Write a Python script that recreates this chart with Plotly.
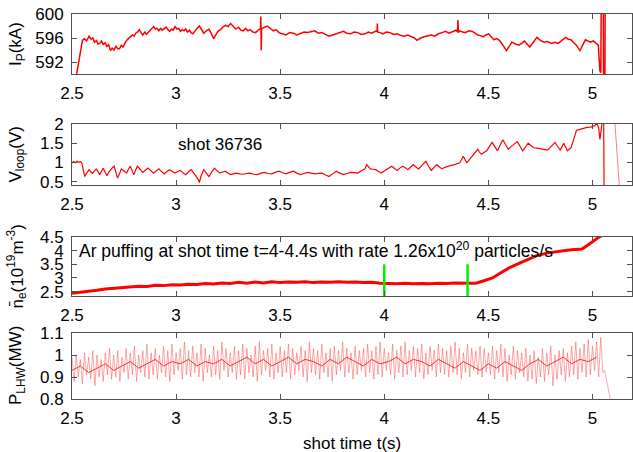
import plotly.graph_objects as go

# ---------------- data ----------------
ip_pts = [(2.520,589.5),(2.540,593.5),(2.550,595.6),(2.560,595.9),(2.570,595.5),(2.582,596.3),(2.592,595.8),(2.600,596.0),
(2.608,595.3),(2.618,595.6),(2.625,595.0),(2.633,595.1),(2.642,595.5),(2.650,594.9),(2.659,595.2),(2.668,594.6),(2.676,594.9),
(2.685,593.9),(2.693,594.3),(2.702,594.0),(2.711,594.6),(2.720,594.2),(2.728,594.2),(2.737,594.8),(2.745,594.5),(2.754,595.1),
(2.762,595.6),(2.771,595.9),(2.780,596.2),(2.790,596.5),(2.798,596.3),(2.806,596.8),(2.815,597.0),(2.823,597.4),(2.832,596.9),
(2.840,596.5),(2.850,597.0),(2.858,596.6),(2.866,596.9),(2.875,597.3),(2.883,597.5),(2.892,597.9),(2.900,597.5),(2.908,597.6),
(2.917,597.2),(2.926,597.6),(2.934,597.3),(2.943,597.6),(2.952,597.8),(2.960,597.4),(2.969,597.1),(2.978,597.5),(2.986,597.3),
(2.995,597.9),(3.004,597.5),(3.012,597.6),(3.021,597.1),(3.030,597.4),(3.038,597.2),(3.046,597.5),(3.055,597.0),(3.064,597.3),
(3.072,596.9),(3.081,596.7),(3.090,597.2),(3.100,597.6),(3.112,598.0),(3.122,597.3),(3.133,596.8),(3.145,597.2),(3.158,597.5),
(3.168,596.8),(3.181,595.9),(3.190,596.5),(3.201,597.1),(3.214,597.4),(3.227,597.9),(3.238,598.1),(3.250,597.9),(3.262,598.4),
(3.275,597.9),(3.287,597.5),(3.300,597.8),(3.311,597.3),(3.322,597.2),(3.334,597.6),(3.345,597.2),(3.356,597.4),(3.369,597.0),
(3.382,596.9),(3.394,597.3),(3.405,597.5),(3.407,599.6),(3.409,593.9),(3.411,597.6),(3.425,597.8),(3.439,598.0),(3.452,597.6),
(3.468,597.2),(3.480,597.4),(3.494,596.9),(3.510,596.7),(3.528,596.5),(3.545,596.9),(3.563,596.8),(3.580,596.5),(3.597,596.7),
(3.615,597.0),(3.632,596.9),(3.650,597.1),(3.666,597.2),(3.683,596.8),(3.700,596.9),(3.718,596.6),(3.735,596.3),(3.752,596.5),
(3.769,596.7),(3.787,596.9),(3.804,597.1),(3.820,596.8),(3.838,596.7),(3.855,597.0),(3.873,596.9),(3.890,596.6),(3.907,596.7),
(3.924,597.0),(3.941,596.8),(3.955,597.1),(3.966,597.2),(3.967,598.4),(3.968,597.0),(3.980,596.9),(3.993,596.7),(4.010,597.0),
(4.028,596.9),(4.045,596.6),(4.062,596.7),(4.080,596.4),(4.096,596.3),(4.113,596.5),(4.131,596.2),(4.145,596.0),(4.157,595.6),
(4.175,596.0),(4.191,596.2),(4.208,596.4),(4.225,596.5),(4.243,596.3),(4.260,596.7),(4.277,596.9),(4.294,597.1),(4.311,596.8),
(4.329,597.1),(4.345,597.3),(4.352,597.0),(4.354,599.0),(4.356,596.9),(4.363,597.2),(4.376,597.0),(4.389,596.9),(4.406,597.2),
(4.423,597.1),(4.436,596.8),(4.449,596.5),(4.462,596.4),(4.475,596.2),(4.488,596.5),(4.501,596.7),(4.514,596.2),(4.527,595.7),
(4.540,595.9),(4.553,595.6),(4.570,594.8),(4.587,593.9),(4.600,594.6),(4.613,595.3),(4.630,595.0),(4.647,594.8),(4.660,595.1),
(4.673,595.5),(4.686,595.0),(4.699,594.5),(4.716,595.3),(4.733,596.1),(4.750,595.6),(4.768,595.3),(4.785,595.4),(4.802,595.1),
(4.820,595.3),(4.836,595.1),(4.853,595.6),(4.871,596.1),(4.884,595.8),(4.897,595.7),(4.910,595.2),(4.923,594.8),(4.932,594.3),
(4.940,593.9),(4.953,594.8),(4.966,595.7),(4.978,595.5),(4.991,595.3),(5.004,595.5),(5.017,595.1),(5.028,594.8),(5.036,590.5),
(5.040,590.2),(5.042,601.0),(5.052,601.0),(5.053,589.0),(5.060,589.0),(5.061,601.0)]

vloop_pts = [(2.500,0.98),(2.508,1.02),(2.516,0.99),(2.524,1.03),(2.532,1.00),(2.540,1.02),(2.547,0.99),(2.555,0.80),(2.561,0.63),
(2.570,0.72),(2.582,0.81),(2.591,0.75),(2.599,0.72),(2.608,0.78),(2.616,0.83),(2.625,0.76),(2.633,0.68),(2.642,0.77),(2.650,0.85),
(2.659,0.74),(2.668,0.65),(2.676,0.74),(2.685,0.81),(2.694,0.86),(2.702,0.90),(2.711,0.75),(2.719,0.59),(2.728,0.70),(2.737,0.83),
(2.749,0.78),(2.762,0.72),(2.771,0.82),(2.780,0.90),(2.789,0.78),(2.797,0.68),(2.806,0.80),(2.814,0.90),(2.827,0.82),(2.840,0.74),
(2.853,0.80),(2.866,0.85),(2.879,0.78),(2.892,0.72),(2.905,0.78),(2.917,0.83),(2.930,0.76),(2.943,0.70),(2.956,0.76),(2.969,0.81),
(2.982,0.76),(2.995,0.72),(3.008,0.76),(3.021,0.79),(3.034,0.72),(3.046,0.68),(3.059,0.75),(3.072,0.81),(3.085,0.72),(3.098,0.63),
(3.107,0.55),(3.112,0.47),(3.120,0.65),(3.133,0.81),(3.146,0.72),(3.158,0.63),(3.171,0.75),(3.184,0.85),(3.197,0.78),(3.210,0.72),
(3.223,0.75),(3.236,0.77),(3.249,0.72),(3.262,0.68),(3.275,0.70),(3.287,0.72),(3.305,0.70),(3.322,0.69),(3.339,0.71),(3.356,0.72),
(3.373,0.69),(3.391,0.68),(3.408,0.72),(3.425,0.74),(3.442,0.71),(3.459,0.70),(3.476,0.74),(3.494,0.77),(3.511,0.73),(3.528,0.70),
(3.545,0.74),(3.563,0.77),(3.580,0.72),(3.597,0.68),(3.614,0.71),(3.632,0.74),(3.649,0.72),(3.666,0.70),(3.683,0.71),(3.700,0.72),
(3.718,0.67),(3.735,0.63),(3.752,0.70),(3.769,0.77),(3.786,0.72),(3.804,0.68),(3.821,0.71),(3.838,0.74),(3.855,0.73),(3.873,0.72),
(3.890,0.78),(3.907,0.83),(3.916,0.94),(3.924,0.88),(3.933,0.83),(3.947,0.82),(3.959,0.81),(3.972,0.76),(3.985,0.72),(3.998,0.77),
(4.010,0.81),(4.023,0.86),(4.036,0.90),(4.049,0.84),(4.062,0.79),(4.075,0.85),(4.088,0.90),(4.101,0.86),(4.114,0.81),(4.127,0.88),
(4.140,0.94),(4.152,0.88),(4.165,0.83),(4.182,0.93),(4.200,1.03),(4.213,0.90),(4.226,0.79),(4.239,0.87),(4.252,0.94),(4.265,0.88),
(4.278,0.83),(4.291,0.87),(4.304,0.90),(4.321,0.92),(4.338,0.94),(4.350,0.96),(4.363,0.99),(4.372,1.08),(4.380,1.16),(4.389,1.06),
(4.397,0.99),(4.410,1.08),(4.423,1.16),(4.436,1.25),(4.449,1.34),(4.457,1.27),(4.466,1.21),(4.479,1.26),(4.492,1.30),(4.505,1.41),
(4.518,1.52),(4.531,1.41),(4.544,1.30),(4.557,1.45),(4.570,1.59),(4.583,1.46),(4.596,1.34),(4.609,1.41),(4.622,1.47),(4.631,1.51),
(4.639,1.54),(4.652,1.42),(4.665,1.30),(4.678,1.40),(4.691,1.50),(4.704,1.44),(4.717,1.38),(4.734,1.37),(4.751,1.36),(4.768,1.34),
(4.785,1.32),(4.802,1.42),(4.820,1.52),(4.832,1.42),(4.845,1.32),(4.854,1.41),(4.862,1.50),(4.871,1.40),(4.880,1.30),(4.888,1.34),
(4.897,1.38),(4.910,1.60),(4.923,1.83),(4.940,1.86),(4.957,1.89),(4.974,1.91),(4.991,1.92),(5.009,1.95),(5.020,2.02),(5.030,1.90),
(5.036,1.60),(5.042,1.85),(5.048,2.10),(5.054,2.10),(5.056,0.30)]
vloop_tail_pts = [(5.107,2.10),(5.130,0.30)]

ne_pts = [(2.50,2.44),(2.54,2.47),(2.58,2.52),(2.62,2.55),(2.66,2.60),(2.70,2.62),(2.74,2.66),(2.78,2.67),(2.82,2.70),(2.86,2.69),
(2.90,2.73),(2.94,2.72),(2.98,2.75),(3.02,2.74),(3.06,2.77),(3.10,2.76),(3.14,2.80),(3.18,2.78),(3.22,2.82),(3.26,2.80),(3.30,2.84),
(3.34,2.81),(3.38,2.85),(3.42,2.82),(3.46,2.86),(3.50,2.83),(3.54,2.85),(3.58,2.84),(3.62,2.86),(3.66,2.83),(3.70,2.85),(3.74,2.84),
(3.78,2.86),(3.82,2.84),(3.86,2.85),(3.90,2.83),(3.94,2.84),(3.98,2.81),(4.02,2.80),(4.06,2.79),(4.10,2.81),(4.14,2.79),(4.18,2.80),
(4.22,2.79),(4.26,2.81),(4.30,2.80),(4.34,2.82),(4.38,2.81),(4.41,2.83),(4.44,2.81),(4.475,2.89),(4.52,3.00),(4.56,3.19),(4.60,3.37),
(4.65,3.54),(4.69,3.69),(4.73,3.81),(4.78,3.91),(4.82,3.96),(4.86,4.00),(4.90,4.03),(4.95,4.06),(4.975,4.19),(5.00,4.34),(5.025,4.46),
(5.045,4.56)]

puff_times = [4.0, 4.4]
puff_y = [2.30, 3.50]

# P_LHW: upper / lower envelope of the fast oscillation (every 0.02 s), and slow mean line (every 0.04 s)
plhw_hi = [0.99,1.00,0.98,1.01,0.99,1.02,1.00,0.98,1.01,1.03,
1.00,1.02,0.99,1.03,1.01,1.04,1.00,1.02,1.05,1.01,
1.03,1.00,1.04,1.02,1.05,1.01,1.03,1.06,1.02,1.04,
1.01,1.05,1.03,1.00,1.04,1.02,1.06,1.03,1.01,1.04,
1.02,1.05,1.03,1.00,1.04,1.06,1.02,1.03,1.05,1.01,
1.04,1.02,1.05,1.03,1.01,1.04,1.02,1.06,1.03,1.02,
1.05,1.01,1.03,1.04,1.02,1.06,1.03,1.01,1.04,1.02,
1.03,1.05,1.02,1.04,1.06,1.03,1.01,1.05,1.02,1.04,
1.06,1.02,1.04,1.03,1.05,1.01,1.04,1.02,1.05,1.03,
1.02,1.04,1.06,1.03,1.01,1.05,1.03,1.02,1.04,1.03,
1.01,1.04,1.02,1.05,1.03,1.00,1.04,1.02,1.01,1.03,
1.00,1.02,0.99,1.03,1.01,1.04,1.00,1.02,1.03,1.01,
1.04,1.06,1.03,1.05,1.07,1.04,1.06,1.08]
plhw_lo = [0.88,0.90,0.87,0.91,0.89,0.86,0.90,0.88,0.91,0.89,
0.90,0.88,0.92,0.89,0.91,0.88,0.92,0.90,0.89,0.91,
0.89,0.92,0.90,0.88,0.91,0.93,0.89,0.91,0.90,0.92,
0.90,0.88,0.92,0.90,0.91,0.89,0.93,0.90,0.92,0.89,
0.91,0.89,0.92,0.90,0.88,0.91,0.93,0.90,0.89,0.92,
0.90,0.92,0.89,0.91,0.93,0.90,0.88,0.92,0.91,0.89,
0.92,0.90,0.88,0.91,0.93,0.90,0.92,0.89,0.91,0.93,
0.90,0.92,0.89,0.91,0.90,0.93,0.91,0.89,0.92,0.90,
0.91,0.93,0.90,0.92,0.89,0.91,0.93,0.90,0.92,0.91,
0.90,0.92,0.91,0.89,0.92,0.90,0.93,0.91,0.90,0.92,
0.91,0.89,0.92,0.90,0.88,0.91,0.89,0.92,0.90,0.88,
0.89,0.87,0.90,0.88,0.91,0.86,0.89,0.91,0.88,0.90,
0.91,0.89,0.92,0.90,0.91,0.93,0.90,0.92]
plhw_mean = [0.93,0.95,0.92,0.94,0.96,0.93,0.95,0.97,0.94,0.96,
0.98,0.95,0.97,0.96,0.98,0.95,0.97,0.96,0.98,0.95,
0.97,0.99,0.96,0.98,0.95,0.97,0.99,0.96,0.98,0.97,
0.95,0.98,0.96,0.99,0.97,0.95,0.98,0.96,0.97,0.99,
0.96,0.98,0.97,0.95,0.98,0.96,0.94,0.97,0.95,0.93,
0.96,0.94,0.97,0.95,0.93,0.96,0.98,0.95,0.97,0.99,
0.96,0.98,0.97,0.99]
plhw_end_pts = [(5.058,0.93),(5.09,0.78)]

x_ticks = [2.5, 3, 3.5, 4, 4.5, 5]
x_ticktext = ["2.5", "3", "3.5", "4", "4.5", "5"]
y_ticks = {1: [592, 596, 600], 2: [0.5, 1, 1.5, 2], 3: [2.5, 3, 3.5, 4, 4.5], 4: [0.8, 0.9, 1, 1.1]}
y_ticktext = {1: ["592", "596", "600"], 2: ["0.5", "1", "1.5", "2"], 3: ["2.5", "3", "3.5", "4", "4.5"], 4: ["0.8", "0.9", "1", "1.1"]}
y_ranges = {1: [590, 600], 2: [0.41, 2.0], 3: [2.34, 4.5], 4: [0.8, 1.1]}
y_titles = {1: "I<sub>P</sub>(kA)", 2: "V<sub>loop</sub>(V)", 3: "n\u0304<sub>e</sub>(10<sup>19</sup>m<sup>-3</sup>)", 4: "P<sub>LHW</sub>(MW)"}

# ---------------- build figure ----------------
W, H = 633, 452
ML, MR, MT, MB = 72, 1, 14, 53
PH = H - MT - MB
PW = W - ML - MR
def ydom(top_px, bot_px):
    return [(H - MB - bot_px) / PH, (H - MB - top_px) / PH]
domains = {1: ydom(14, 74), 2: ydom(124, 185), 3: ydom(237, 296), 4: ydom(333, 399)}

RED = "#ff0000"
fig = go.Figure()

def unzip(pts):
    return [p[0] for p in pts], [p[1] for p in pts]

tx, ty = unzip(ip_pts)
fig.add_trace(go.Scatter(x=tx, y=ty, mode="lines", line=dict(color=RED, width=1.5), xaxis="x", yaxis="y"))

tx, ty = unzip(vloop_pts)
fig.add_trace(go.Scatter(x=tx, y=ty, mode="lines", line=dict(color=RED, width=1.2), xaxis="x2", yaxis="y2"))
tx, ty = unzip(vloop_tail_pts)
fig.add_trace(go.Scatter(x=tx, y=ty, mode="lines", line=dict(color="rgba(255,0,0,0.5)", width=1), xaxis="x2", yaxis="y2"))

tx, ty = unzip(ne_pts)
fig.add_trace(go.Scatter(x=tx, y=ty, mode="lines", line=dict(color=RED, width=3), xaxis="x3", yaxis="y3"))
for pt in puff_times:
    fig.add_trace(go.Scatter(x=[pt, pt], y=puff_y, mode="lines", line=dict(color="#00ee00", width=2.5),
                             xaxis="x3", yaxis="y3"))

zx, zy = [], []
for i in range(len(plhw_hi)):
    zx += [round(2.50 + 0.02 * i, 3), round(2.51 + 0.02 * i, 3)]
    zy += [plhw_hi[i], plhw_lo[i]]
ex, ey = unzip(plhw_end_pts)
zx += ex
zy += ey
fig.add_trace(go.Scatter(x=zx, y=zy, mode="lines", line=dict(color="rgba(255,60,60,0.45)", width=1),
                         xaxis="x4", yaxis="y4"))
mx = [round(2.50 + 0.04 * i, 3) for i in range(len(plhw_mean))]
fig.add_trace(go.Scatter(x=mx, y=plhw_mean, mode="lines", line=dict(color="rgba(240,0,0,0.85)", width=0.9),
                         xaxis="x4", yaxis="y4"))

FONT = "Liberation Sans, Arial, sans-serif"
axcol = "#505050"
layout = dict(width=W, height=H, margin=dict(l=ML, r=MR, t=MT, b=MB), showlegend=False,
              plot_bgcolor="white", paper_bgcolor="white",
              font=dict(family=FONT, size=17, color="black"))
for k in range(1, 5):
    xs = "xaxis" if k == 1 else f"xaxis{k}"
    ys = "yaxis" if k == 1 else f"yaxis{k}"
    layout[xs] = dict(domain=[0, 1], anchor="y" if k == 1 else f"y{k}", range=[2.5, 5.19],
                      tickvals=x_ticks, ticktext=x_ticktext, ticks="inside", ticklen=5, tickcolor=axcol,
                      showline=True, linecolor=axcol, linewidth=1, mirror="ticks", showgrid=False, zeroline=False,
                      tickfont=dict(size=17), ticklabelstandoff=4)
    layout[ys] = dict(domain=domains[k], anchor="x" if k == 1 else f"x{k}", range=y_ranges[k],
                      tickvals=y_ticks[k], ticktext=y_ticktext[k], ticks="inside", ticklen=5, tickcolor=axcol,
                      showline=True, linecolor=axcol, linewidth=1, mirror="ticks", showgrid=False, zeroline=False,
                      tickfont=dict(size=17), ticklabelstandoff=4)
fig.update_layout(**layout)

annos = []
for k in range(1, 5):
    annos.append(dict(text=y_titles[k], xref="paper", yref="paper", x=(17 - ML) / PW,
                      y=sum(domains[k]) / 2, textangle=-90, showarrow=False,
                      xanchor="center", yanchor="middle", font=dict(size=17)))
annos.append(dict(text="shot 36736", xref="x2", yref="y2", x=3.0, y=1.47, showarrow=False,
                  xanchor="left", yanchor="middle", font=dict(size=17)))
annos.append(dict(text="Ar puffing at shot time t=4-4.4s with rate 1.26x10<sup>20</sup> particles/s",
                  xref="x3", yref="y3", x=2.522, y=4.02, showarrow=False,
                  xanchor="left", yanchor="middle", font=dict(size=17.5)))
annos.append(dict(text="shot time t(s)", xref="paper", yref="paper", x=(352 - ML) / PW, y=(H - MB - 443) / PH,
                  showarrow=False, xanchor="center", yanchor="middle", font=dict(size=17)))
fig.update_layout(annotations=annos)

fig.write_html("out.html")
